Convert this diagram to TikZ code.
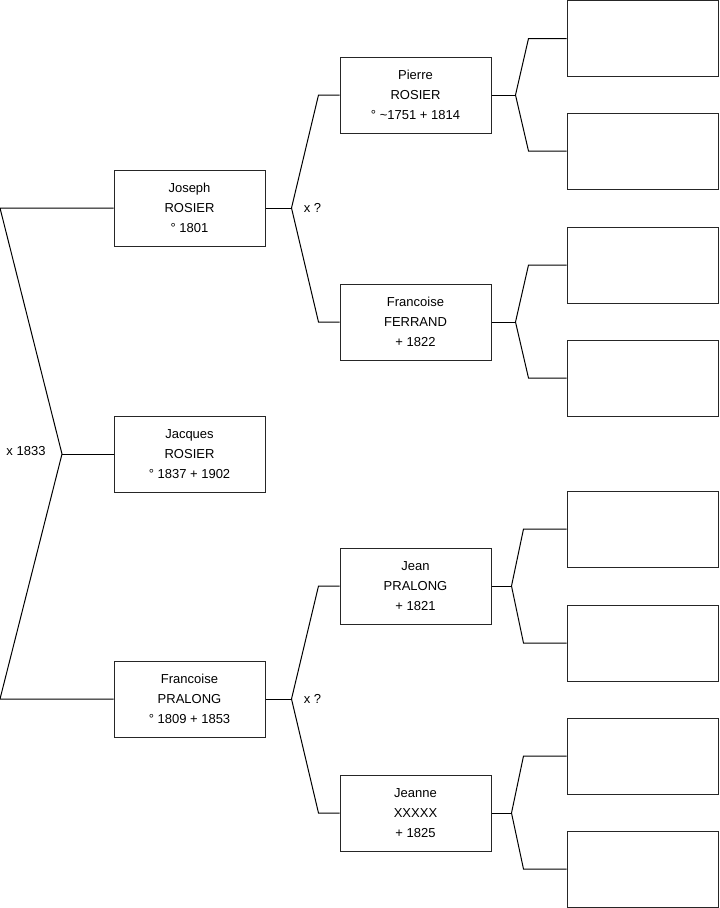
\documentclass[tikz,border=0pt]{standalone}
\usepackage{fontspec}
\setmainfont{Liberation Sans}
\usetikzlibrary{calc}
\newcommand{\pers}[3]{\begin{tabular}{@{}c@{}}#1\\#2\\#3\end{tabular}}
\begin{document}
\begin{tikzpicture}[x=0.75pt,y=-0.75pt,
  box/.style={draw=black!85,line width=0.75pt,minimum width=113.25pt,minimum height=57pt,inner sep=0pt,align=center,font=\fontsize{9.75}{15}\selectfont},
  conn/.style={draw=black,line width=0.75pt},
  lbl/.style={font=\fontsize{9.75}{11}\selectfont,inner sep=0pt}]
\useasboundingbox (0,0) rectangle (719,908);
% generation 1
\node[box] (jo) at (189.5,208) {\pers{Joseph}{ROSIER}{° 1801}};
\node[box] (ja) at (189.5,454) {\pers{Jacques}{ROSIER}{° 1837 + 1902}};
\node[box] (fp) at (189.5,699) {\pers{Francoise}{PRALONG}{° 1809 + 1853}};
% generation 2
\node[box] (pi) at (415.5,95) {\pers{Pierre}{ROSIER}{° \textasciitilde1751 + 1814}};
\node[box] (ff) at (415.5,322) {\pers{Francoise}{FERRAND}{+ 1822}};
\node[box] (je) at (415.5,586) {\pers{Jean}{PRALONG}{+ 1821}};
\node[box] (jn) at (415.5,813) {\pers{Jeanne}{XXXXX}{+ 1825}};
% generation 3
\node[box] (e1) at (642.5,38.5) {};
\node[box] (e2) at (642.5,151) {};
\node[box] (e3) at (642.5,265) {};
\node[box] (e4) at (642.5,378) {};
\node[box] (e5) at (642.5,529) {};
\node[box] (e6) at (642.5,643) {};
\node[box] (e7) at (642.5,756) {};
\node[box] (e8) at (642.5,869) {};
% labels
\node[lbl] (m0) at (26,451) {x 1833};
\node[lbl] (m1) at (312.5,208) {x ?};
\node[lbl] (m2) at (312.5,699) {x ?};
% left fork
\coordinate (l1) at (0,208);
\coordinate (l2) at (0,699);
\coordinate (f0) at (62,454);
\draw[conn] (jo.west) -- (l1) -- (f0) -- (l2) -- (fp.west);
\draw[conn] (f0) -- (ja.west);
% Joseph fork
\draw[conn] (jo.east) -- ++(26,0) coordinate (f1);
\draw[conn] (f1) -- ($(pi.west)+(-21,0)$) -- (pi.west);
\draw[conn] (f1) -- ($(ff.west)+(-21,0)$) -- (ff.west);
% Francoise Pralong fork
\draw[conn] (fp.east) -- ++(26,0) coordinate (f2);
\draw[conn] (f2) -- ($(je.west)+(-21,0)$) -- (je.west);
\draw[conn] (f2) -- ($(jn.west)+(-21,0)$) -- (jn.west);
% Pierre fork
\draw[conn] (pi.east) -- ++(24,0) coordinate (f3);
\draw[conn] (f3) -- ($(e1.west)+(-38,0)$) -- (e1.west);
\draw[conn] (f3) -- ($(e2.west)+(-38,0)$) -- (e2.west);
% Ferrand fork
\draw[conn] (ff.east) -- ++(24,0) coordinate (f4);
\draw[conn] (f4) -- ($(e3.west)+(-38,0)$) -- (e3.west);
\draw[conn] (f4) -- ($(e4.west)+(-38,0)$) -- (e4.west);
% Jean fork
\draw[conn] (je.east) -- ++(20,0) coordinate (f5);
\draw[conn] (f5) -- ($(e5.west)+(-43,0)$) -- (e5.west);
\draw[conn] (f5) -- ($(e6.west)+(-43,0)$) -- (e6.west);
% Jeanne fork
\draw[conn] (jn.east) -- ++(20,0) coordinate (f6);
\draw[conn] (f6) -- ($(e7.west)+(-43,0)$) -- (e7.west);
\draw[conn] (f6) -- ($(e8.west)+(-43,0)$) -- (e8.west);
\end{tikzpicture}
\end{document}
